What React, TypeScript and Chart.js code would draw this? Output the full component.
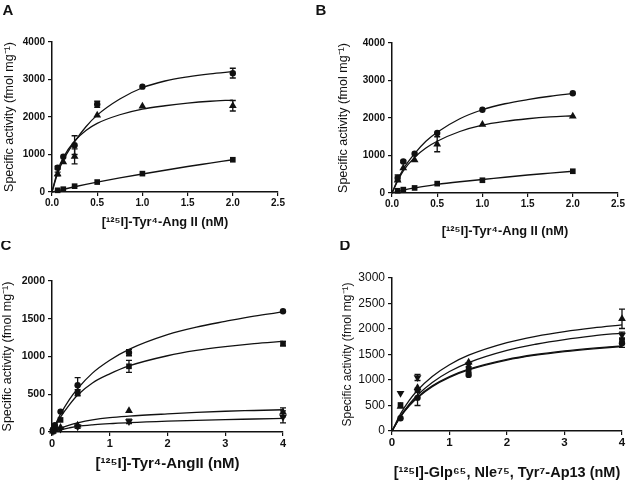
import React, { useEffect, useRef } from "react";
import { Chart, registerables } from "chart.js";

Chart.register(...registerables);

const FONT = "'Liberation Sans', Arial, Helvetica, sans-serif";
const INK = "#111";

// ---------------- Panel A ----------------
const A_X = [0.0625, 0.125, 0.25, 0.5, 1, 2];
const A_CIRCLE = [650, 940, 1250, 2340, 2810, 3170];
const A_CIRCLE_ERR = [40, 0, 250, 80, 0, 130];
const A_TRIANGLE = [480, 800, 950, 2050, 2290, 2300];
const A_TRIANGLE_ERR = [50, 0, 200, 0, 0, 140];
const A_SQUARE = [45, 75, 155, 265, 490, 860];
const A_SQUARE_ERR = [0, 0, 0, 0, 0, 0];
const A_FIT_X = [0, 0.0625, 0.125, 0.25, 0.375, 0.5, 0.75, 1, 1.25, 1.5, 1.75, 2];
const A_FIT_CIRCLE = [0, 500, 850, 1340, 1740, 2050, 2480, 2780, 2960, 3070, 3150, 3210];
const A_FIT_TRIANGLE = [0, 560, 920, 1360, 1640, 1830, 2060, 2210, 2300, 2370, 2420, 2450];
const A_FIT_SQUARE = [0, 35, 70, 140, 205, 265, 375, 480, 580, 680, 770, 860];
const A_X_TICKS = [0, 0.5, 1, 1.5, 2, 2.5];
const A_X_LABELS = ["0.0", "0.5", "1.0", "1.5", "2.0", "2.5"];
const A_Y_TICKS = [0, 1000, 2000, 3000, 4000];
const A_Y_LABELS = ["0", "1000", "2000", "3000", "4000"];

// ---------------- Panel B ----------------
const B_X = [0.0625, 0.125, 0.25, 0.5, 1, 2];
const B_CIRCLE = [400, 840, 1050, 1600, 2220, 2660];
const B_CIRCLE_ERR = [80, 30, 0, 0, 0, 0];
const B_TRIANGLE = [340, 670, 880, 1300, 1830, 2050];
const B_TRIANGLE_ERR = [0, 0, 0, 200, 0, 0];
const B_SQUARE = [60, 90, 135, 250, 340, 580];
const B_SQUARE_ERR = [0, 0, 0, 0, 0, 0];
const B_FIT_X = [0, 0.0625, 0.125, 0.25, 0.375, 0.5, 0.75, 1, 1.25, 1.5, 1.75, 2];
const B_FIT_CIRCLE = [0, 350, 640, 1050, 1380, 1620, 1980, 2220, 2380, 2490, 2580, 2650];
const B_FIT_TRIANGLE = [0, 320, 590, 950, 1200, 1380, 1640, 1810, 1910, 1980, 2030, 2060];
const B_FIT_SQUARE = [0, 40, 75, 135, 185, 230, 300, 360, 420, 480, 530, 580];
const B_X_TICKS = [0, 0.5, 1, 1.5, 2, 2.5];
const B_X_LABELS = ["0.0", "0.5", "1.0", "1.5", "2.0", "2.5"];
const B_Y_TICKS = [0, 1000, 2000, 3000, 4000];
const B_Y_LABELS = ["0", "1000", "2000", "3000", "4000"];

// ---------------- Panel C ----------------
const C_X = [0.016, 0.049, 0.148, 0.444, 1.333, 4];
const C_CIRCLE = [30, 90, 270, 620, 1050, 1600];
const C_CIRCLE_ERR = [0, 0, 0, 100, 40, 0];
const C_SQUARE = [20, 60, 160, 520, 870, 1170];
const C_SQUARE_ERR = [0, 0, 0, 40, 80, 30];
const C_TRIANGLE = [10, 30, 60, 90, 280, 260];
const C_TRIANGLE_ERR = [0, 0, 0, 0, 0, 60];
const C_INVTRIANGLE = [5, 20, 40, 70, 140, 200];
const C_INVTRIANGLE_ERR = [0, 0, 0, 20, 30, 80];
const C_FIT_X = [0, 0.05, 0.15, 0.3, 0.444, 0.7, 1, 1.333, 2, 2.5, 3, 3.5, 4];
const C_FIT_1 = [0, 85, 240, 430, 575, 780, 950, 1095, 1290, 1390, 1465, 1535, 1590];
const C_FIT_2 = [0, 70, 200, 360, 490, 650, 770, 875, 1010, 1080, 1130, 1170, 1200];
const C_FIT_3 = [0, 20, 50, 90, 120, 160, 190, 210, 240, 260, 275, 285, 295];
const C_FIT_4 = [0, 10, 30, 55, 75, 95, 110, 125, 145, 155, 165, 172, 180];
const C_X_TICKS = [0, 1, 2, 3, 4];
const C_X_LABELS = ["0", "1", "2", "3", "4"];
const C_Y_TICKS = [0, 500, 1000, 1500, 2000];
const C_Y_LABELS = ["0", "500", "1000", "1500", "2000"];

// ---------------- Panel D ----------------
const D_X = [0.148, 0.444, 1.333, 4];
const D_TRIANGLE = [480, 850, 1350, 2200];
const D_TRIANGLE_ERR = [0, 0, 0, 190];
const D_INVTRIANGLE = [740, 1050, 1300, 1880];
const D_INVTRIANGLE_ERR = [0, 60, 0, 60];
const D_SQUARE = [510, 800, 1200, 1780];
const D_SQUARE_ERR = [0, 0, 60, 0];
const D_CIRCLE = [250, 650, 1100, 1720];
const D_CIRCLE_ERR = [0, 150, 0, 80];
const D_FIT_X = [0, 0.148, 0.3, 0.444, 0.7, 1, 1.333, 2, 2.5, 3, 3.5, 4];
const D_FIT_1 = [0, 335, 600, 800, 1070, 1300, 1486, 1733, 1857, 1950, 2022, 2080];
const D_FIT_2 = [0, 290, 525, 705, 953, 1167, 1342, 1581, 1701, 1793, 1864, 1921];
const D_FIT_3 = [0, 276, 492, 653, 870, 1051, 1197, 1390, 1486, 1557, 1612, 1657];
const D_FIT_4 = [0, 286, 504, 666, 884, 1065, 1211, 1404, 1500, 1571, 1626, 1671];
const D_X_TICKS = [0, 1, 2, 3, 4];
const D_X_LABELS = ["0", "1", "2", "3", "4"];
const D_Y_TICKS = [0, 500, 1000, 1500, 2000, 2500, 3000];
const D_Y_LABELS = ["0", "500", "1000", "1500", "2000", "2500", "3000"];

const Y_TITLE = "Specific activity (fmol mg\u207B\u00B9)";

type Marker = "circle" | "square" | "triangle" | "invtriangle";
type Series = { x: number[]; y: number[]; err: number[]; marker: Marker };
type Fit = { x: number[]; y: number[] };
type Panel = {
  letter: string;
  letterX: number;
  letterY: number;
  left: number;
  top: number;
  area: { left: number; right: number; top: number; bottom: number };
  xMax: number;
  yMax: number;
  xTicks: number[];
  xLabels: string[];
  yTicks: number[];
  yLabels: string[];
  xTitle: string;
  xTitleFont: { size: number; weight: string };
  xTitleCenterY: number;
  yTitleFont: { size: number; weight: string };
  yTitleCenterX: number;
  xTickFont: { size: number; weight: string };
  yTickFont: { size: number; weight: string };
  series: Series[];
  fits: Fit[];
};

const W = 315;
const H = 241;

const PANELS: Panel[] = [
  {
    letter: "A", letterX: 8, letterY: 11, left: 0, top: 0,
    area: { left: 52, right: 278, top: 42, bottom: 192 },
    xMax: 2.5, yMax: 4000,
    xTicks: A_X_TICKS, xLabels: A_X_LABELS, yTicks: A_Y_TICKS, yLabels: A_Y_LABELS,
    xTitle: "[\u00B9\u00B2\u2075I]-Tyr\u2074-Ang II (nM)",
    xTitleFont: { size: 12.8, weight: "bold" }, xTitleCenterY: 222,
    yTitleFont: { size: 12.5, weight: "normal" }, yTitleCenterX: 10,
    xTickFont: { size: 10, weight: "bold" }, yTickFont: { size: 10, weight: "bold" },
    series: [
      { x: A_X, y: A_CIRCLE, err: A_CIRCLE_ERR, marker: "circle" },
      { x: A_X, y: A_TRIANGLE, err: A_TRIANGLE_ERR, marker: "triangle" },
      { x: A_X, y: A_SQUARE, err: A_SQUARE_ERR, marker: "square" },
    ],
    fits: [
      { x: A_FIT_X, y: A_FIT_CIRCLE },
      { x: A_FIT_X, y: A_FIT_TRIANGLE },
      { x: A_FIT_X, y: A_FIT_SQUARE },
    ],
  },
  {
    letter: "B", letterX: 6, letterY: 11, left: 315, top: 0,
    area: { left: 77, right: 303, top: 43, bottom: 193 },
    xMax: 2.5, yMax: 4000,
    xTicks: B_X_TICKS, xLabels: B_X_LABELS, yTicks: B_Y_TICKS, yLabels: B_Y_LABELS,
    xTitle: "[\u00B9\u00B2\u2075I]-Tyr\u2074-Ang II (nM)",
    xTitleFont: { size: 12.8, weight: "bold" }, xTitleCenterY: 231,
    yTitleFont: { size: 12.5, weight: "normal" }, yTitleCenterX: 29,
    xTickFont: { size: 10, weight: "bold" }, yTickFont: { size: 10, weight: "bold" },
    series: [
      { x: B_X, y: B_CIRCLE, err: B_CIRCLE_ERR, marker: "circle" },
      { x: B_X, y: B_TRIANGLE, err: B_TRIANGLE_ERR, marker: "triangle" },
      { x: B_X, y: B_SQUARE, err: B_SQUARE_ERR, marker: "square" },
    ],
    fits: [
      { x: B_FIT_X, y: B_FIT_CIRCLE },
      { x: B_FIT_X, y: B_FIT_TRIANGLE },
      { x: B_FIT_X, y: B_FIT_SQUARE },
    ],
  },
  {
    letter: "C", letterX: 6, letterY: 5, left: 0, top: 241,
    area: { left: 52, right: 283, top: 40, bottom: 191 },
    xMax: 4, yMax: 2000,
    xTicks: C_X_TICKS, xLabels: C_X_LABELS, yTicks: C_Y_TICKS, yLabels: C_Y_LABELS,
    xTitle: "[\u00B9\u00B2\u2075I]-Tyr\u2074-AngII (nM)",
    xTitleFont: { size: 15, weight: "bold" }, xTitleCenterY: 223,
    yTitleFont: { size: 12.5, weight: "normal" }, yTitleCenterX: 8,
    xTickFont: { size: 11, weight: "bold" }, yTickFont: { size: 10.5, weight: "bold" },
    series: [
      { x: C_X, y: C_CIRCLE, err: C_CIRCLE_ERR, marker: "circle" },
      { x: C_X, y: C_SQUARE, err: C_SQUARE_ERR, marker: "square" },
      { x: C_X, y: C_TRIANGLE, err: C_TRIANGLE_ERR, marker: "triangle" },
      { x: C_X, y: C_INVTRIANGLE, err: C_INVTRIANGLE_ERR, marker: "invtriangle" },
    ],
    fits: [
      { x: C_FIT_X, y: C_FIT_1 },
      { x: C_FIT_X, y: C_FIT_2 },
      { x: C_FIT_X, y: C_FIT_3 },
      { x: C_FIT_X, y: C_FIT_4 },
    ],
  },
  {
    letter: "D", letterX: 30, letterY: 5, left: 315, top: 241,
    area: { left: 77, right: 307, top: 37, bottom: 190 },
    xMax: 4, yMax: 3000,
    xTicks: D_X_TICKS, xLabels: D_X_LABELS, yTicks: D_Y_TICKS, yLabels: D_Y_LABELS,
    xTitle: "[\u00B9\u00B2\u2075I]-Glp\u2076\u2075, Nle\u2077\u2075, Tyr\u2077-Ap13 (nM)",
    xTitleFont: { size: 14.5, weight: "bold" }, xTitleCenterY: 234,
    yTitleFont: { size: 12, weight: "normal" }, yTitleCenterX: 33,
    xTickFont: { size: 11.5, weight: "bold" }, yTickFont: { size: 12, weight: "normal" },
    series: [
      { x: D_X, y: D_TRIANGLE, err: D_TRIANGLE_ERR, marker: "triangle" },
      { x: D_X, y: D_INVTRIANGLE, err: D_INVTRIANGLE_ERR, marker: "invtriangle" },
      { x: D_X, y: D_SQUARE, err: D_SQUARE_ERR, marker: "square" },
      { x: D_X, y: D_CIRCLE, err: D_CIRCLE_ERR, marker: "circle" },
    ],
    fits: [
      { x: D_FIT_X, y: D_FIT_1 },
      { x: D_FIT_X, y: D_FIT_2 },
      { x: D_FIT_X, y: D_FIT_3 },
      { x: D_FIT_X, y: D_FIT_4 },
    ],
  },
];

function markerStyle(m: Marker) {
  switch (m) {
    case "circle":
      return { pointStyle: "circle", pointRadius: 3.2, pointRotation: 0 };
    case "square":
      return { pointStyle: "rect", pointRadius: 4, pointRotation: 0 };
    case "triangle":
      return { pointStyle: "triangle", pointRadius: 4.5, pointRotation: 0 };
    default:
      return { pointStyle: "triangle", pointRadius: 4.5, pointRotation: 180 };
  }
}

function buildConfig(p: Panel): any {
  const datasets: any[] = [];
  p.fits.forEach((f) => {
    datasets.push({
      data: f.x.map((x, i) => ({ x, y: f.y[i] })),
      showLine: true,
      borderColor: INK,
      borderWidth: 1.3,
      pointRadius: 0,
      cubicInterpolationMode: "monotone",
      fill: false,
      clip: false,
    });
  });
  p.series.forEach((s) => {
    datasets.push({
      data: s.x.map((x, i) => ({ x, y: s.y[i] })),
      showLine: false,
      backgroundColor: INK,
      borderColor: INK,
      borderWidth: 0,
      clip: false,
      ...markerStyle(s.marker),
    });
  });

  const errorBars = {
    id: "errorBars",
    afterDatasetsDraw(chart: any) {
      const { ctx } = chart;
      const xs = chart.scales.x;
      const ys = chart.scales.y;
      ctx.save();
      ctx.strokeStyle = INK;
      ctx.lineWidth = 1.3;
      p.series.forEach((s) => {
        s.x.forEach((xv, i) => {
          const e = s.err[i];
          if (!e) return;
          const px = xs.getPixelForValue(xv);
          const top = ys.getPixelForValue(s.y[i] + e);
          const bot = ys.getPixelForValue(Math.max(0, s.y[i] - e));
          ctx.beginPath();
          ctx.moveTo(px, top);
          ctx.lineTo(px, bot);
          ctx.moveTo(px - 3, top);
          ctx.lineTo(px + 3, top);
          ctx.moveTo(px - 3, bot);
          ctx.lineTo(px + 3, bot);
          ctx.stroke();
        });
      });
      ctx.restore();
    },
  };

  const letter = {
    id: "panelLetter",
    afterDraw(chart: any) {
      const ctx = chart.ctx;
      ctx.save();
      ctx.font = `bold 15px ${FONT}`;
      ctx.fillStyle = INK;
      ctx.textAlign = "center";
      ctx.textBaseline = "middle";
      ctx.fillText(p.letter, p.letterX, p.letterY);
      ctx.restore();
    },
  };

  const xLine = p.xTitleFont.size * 1.2;
  const yLine = p.yTitleFont.size * 1.2;

  return {
    type: "scatter",
    data: { datasets },
    plugins: [errorBars, letter],
    options: {
      responsive: false,
      animation: false,
      events: [],
      layout: {
        padding: { top: p.area.top, right: W - p.area.right, left: 0, bottom: 0 },
      },
      plugins: {
        legend: { display: false },
        tooltip: { enabled: false },
        title: { display: false },
      },
      scales: {
        x: {
          type: "linear",
          min: 0,
          max: p.xMax,
          afterFit: (s: any) => {
            s.height = H - p.area.bottom;
          },
          afterBuildTicks: (s: any) => {
            s.ticks = p.xTicks.map((v) => ({ value: v }));
          },
          ticks: {
            autoSkip: false,
            maxRotation: 0,
            padding: 1,
            color: INK,
            font: { family: FONT, size: p.xTickFont.size, weight: p.xTickFont.weight },
            callback: (v: number) => p.xLabels[p.xTicks.indexOf(v)],
          },
          grid: {
            drawOnChartArea: false,
            drawTicks: true,
            tickLength: 4,
            color: INK,
            lineWidth: 1.2,
          },
          border: { display: true, color: INK, width: 1.5 },
          title: {
            display: true,
            text: p.xTitle,
            color: INK,
            font: { family: FONT, size: p.xTitleFont.size, weight: p.xTitleFont.weight },
            padding: { top: 0, bottom: Math.max(0, H - p.xTitleCenterY - xLine / 2) },
          },
        },
        y: {
          type: "linear",
          min: 0,
          max: p.yMax,
          afterFit: (s: any) => {
            s.width = p.area.left;
          },
          afterBuildTicks: (s: any) => {
            s.ticks = p.yTicks.map((v) => ({ value: v }));
          },
          ticks: {
            autoSkip: false,
            padding: 3,
            color: INK,
            font: { family: FONT, size: p.yTickFont.size, weight: p.yTickFont.weight },
            callback: (v: number) => p.yLabels[p.yTicks.indexOf(v)],
          },
          grid: {
            drawOnChartArea: false,
            drawTicks: true,
            tickLength: 4,
            color: INK,
            lineWidth: 1.2,
          },
          border: { display: true, color: INK, width: 1.5 },
          title: {
            display: true,
            text: Y_TITLE,
            color: INK,
            font: { family: FONT, size: p.yTitleFont.size, weight: p.yTitleFont.weight },
            padding: { top: Math.max(0, p.yTitleCenterX - yLine / 2), bottom: 0 },
          },
        },
      },
    },
  };
}

function PanelChart({ panel }: { panel: Panel }) {
  const ref = useRef<HTMLCanvasElement | null>(null);
  useEffect(() => {
    if (!ref.current) return;
    const chart = new Chart(ref.current, buildConfig(panel));
    return () => chart.destroy();
  }, [panel]);
  return (
    <canvas
      ref={ref}
      width={W}
      height={H}
      style={{ position: "absolute", left: panel.left, top: panel.top, width: W, height: H }}
    />
  );
}

export default function App() {
  return (
    <div
      style={{
        position: "absolute",
        left: 0,
        top: 0,
        width: 630,
        height: 482,
        background: "#fff",
        overflow: "hidden",
      }}
    >
      {PANELS.map((p) => (
        <PanelChart key={p.letter} panel={p} />
      ))}
    </div>
  );
}
